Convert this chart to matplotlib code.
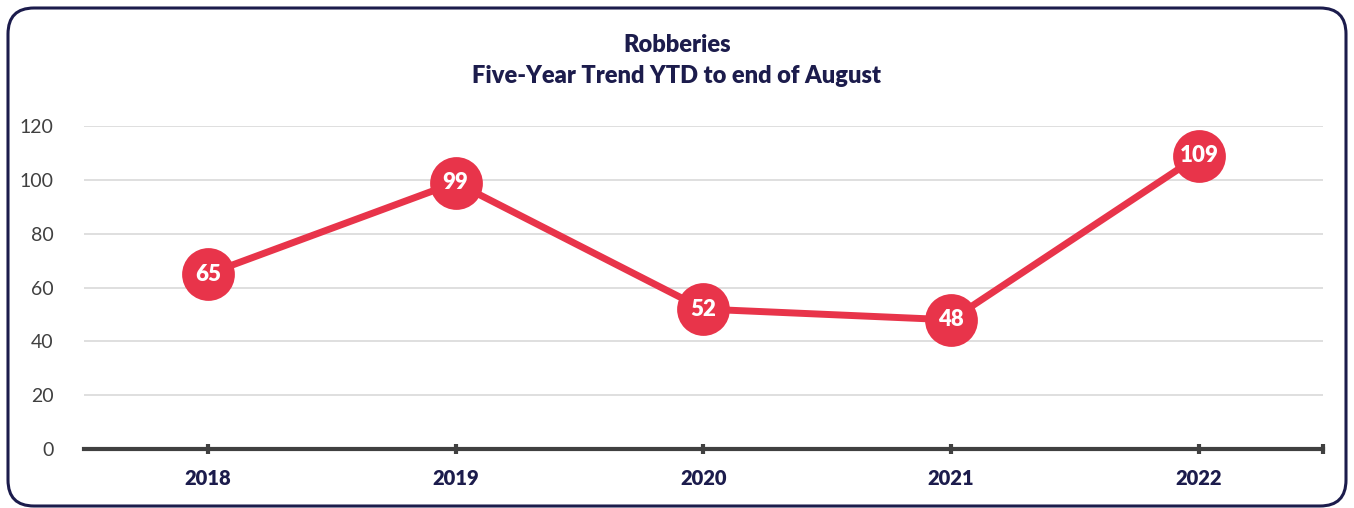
import matplotlib
matplotlib.use("Agg")
import matplotlib.pyplot as plt
import matplotlib.patches as mpatches
from matplotlib.transforms import IdentityTransform

plt.rcParams['font.family'] = ['Lato', 'DejaVu Sans']

# data
years = ['2018', '2019', '2020', '2021', '2022']
robberies = [65, 99, 52, 48, 109]
y_ticks = [0, 20, 40, 60, 80, 100, 120]

red = '#e8344a'
navy = '#1c1c4c'
axis_grey = '#404040'

fig = plt.figure(figsize=(13.54, 5.08), dpi=100)
ax = fig.add_axes([0.062, 0.116, 0.915, 0.636])

x = list(range(len(years)))
ax.plot(x, robberies, color=red, lw=5, solid_capstyle='round', zorder=3)
ax.plot(x, robberies, 'o', ms=38, color=red, mec=red, mew=0, zorder=4)
for xi, v in zip(x, robberies):
    ax.text(xi, v, str(v), ha='center', va='center', color='white',
            fontsize=16, fontweight='heavy', zorder=5)

ax.set_xlim(-0.5, 4.5)
ax.set_ylim(0, 120)
ax.set_yticks(y_ticks)
ax.set_yticklabels([str(t) for t in y_ticks], fontsize=14, color=axis_grey)
ax.set_xticks(x)
ax.set_xticklabels(years, fontsize=14.5, fontweight='heavy', color=navy)
ax.tick_params(axis='y', length=0, pad=22)
ax.tick_params(axis='x', length=0, pad=14)
ax.grid(axis='y', color='#d9d9d9', lw=1.2)
ax.set_axisbelow(True)
for s in ['top', 'right', 'left']:
    ax.spines[s].set_visible(False)
ax.spines['bottom'].set_color(axis_grey)
ax.spines['bottom'].set_linewidth(3)
ax.spines['bottom'].set_zorder(6)

# tick marks crossing the baseline
for xi in x + [4.5]:
    ax.plot([xi, xi], [-1.7, 1.7], color=axis_grey, lw=3, clip_on=False, zorder=6,
            solid_capstyle='butt')

fig.text(0.5, 0.912, 'Robberies', ha='center', va='center',
         fontsize=17, fontweight='heavy', color=navy)
fig.text(0.5, 0.851, 'Five-Year Trend YTD to end of August', ha='center', va='center',
         fontsize=17, fontweight='heavy', color=navy)

# rounded frame
frame = mpatches.FancyBboxPatch((8, 2), 1338, 498,
                                boxstyle='round,pad=0,rounding_size=26',
                                transform=IdentityTransform(), fill=False,
                                ec=navy, lw=2.2)
fig.patches.append(frame)

fig.savefig('out.png', dpi=100)
